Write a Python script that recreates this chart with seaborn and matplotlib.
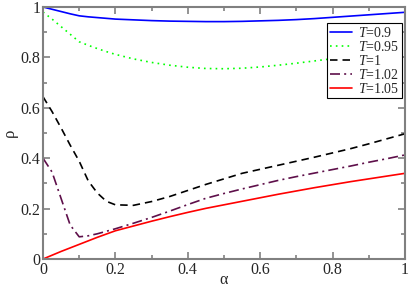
import numpy as np
import pandas as pd
import matplotlib
matplotlib.use('Agg')
import matplotlib.pyplot as plt
import seaborn as sns
from matplotlib.ticker import MultipleLocator

alpha = [0, 0.025, 0.05, 0.075, 0.1, 0.125, 0.15, 0.175, 0.2, 0.25, 0.3, 0.35, 0.4,
         0.45, 0.5, 0.55, 0.6, 0.65, 0.7, 0.75, 0.8, 0.85, 0.9, 0.95, 1.0]

rho_090 = [1.0, 0.991, 0.982, 0.973, 0.965, 0.961, 0.958, 0.955, 0.952, 0.949, 0.946, 0.944, 0.943,
           0.942, 0.942, 0.943, 0.945, 0.947, 0.950, 0.954, 0.959, 0.964, 0.969, 0.974, 0.979]
rho_095 = [0.98, 0.952, 0.922, 0.892, 0.862, 0.848, 0.835, 0.823, 0.812, 0.794, 0.780, 0.769, 0.761,
           0.756, 0.755, 0.757, 0.762, 0.769, 0.777, 0.786, 0.795, 0.806, 0.817, 0.829, 0.841]
rho_100 = [0.644, 0.585, 0.52, 0.452, 0.388, 0.31, 0.262, 0.229, 0.215, 0.213, 0.228, 0.248, 0.272,
           0.296, 0.318, 0.34, 0.356, 0.372, 0.388, 0.404, 0.421, 0.438, 0.457, 0.477, 0.497]
rho_102 = [0.40, 0.345, 0.24, 0.135, 0.088, 0.092, 0.10, 0.11, 0.12, 0.142, 0.165, 0.19, 0.216,
           0.241, 0.26, 0.278, 0.295, 0.312, 0.327, 0.341, 0.355, 0.369, 0.384, 0.398, 0.413]
rho_105 = [0.0, 0.015, 0.03, 0.044, 0.058, 0.072, 0.086, 0.099, 0.112, 0.131, 0.15, 0.168, 0.185,
           0.201, 0.215, 0.229, 0.243, 0.257, 0.27, 0.283, 0.295, 0.307, 0.318, 0.329, 0.34]

labels = ['$T$=0.9', '$T$=0.95', '$T$=1', '$T$=1.02', '$T$=1.05']

sns.set_style('ticks')
plt.rcParams['font.family'] = ['Liberation Serif', 'DejaVu Serif']
plt.rcParams['mathtext.fontset'] = 'custom'
plt.rcParams['mathtext.rm'] = 'Liberation Serif'
plt.rcParams['mathtext.it'] = 'Liberation Serif:italic'

fig = plt.figure(figsize=(4.09, 2.90), dpi=100)
ax = fig.add_axes([43 / 409, 1 - 259 / 290, 362 / 409, 252 / 290])

series = [rho_090, rho_095, rho_100, rho_102, rho_105]
colors = ['#0000ff', '#00ff00', '#000000', '#5e0f4a', '#ff0000']
styles = ['-', (0, (1, 2.5)), (0, (4.5, 3)), (0, (6, 2.5, 1.2, 2.5)), '-']

for y, lab, c, ls in zip(series, labels, colors, styles):
    sns.lineplot(x=alpha, y=y, ax=ax, color=c, linestyle=ls, linewidth=1.2,
                 label=lab, sort=False)

ax.set_xlim(0, 1)
ax.set_ylim(0, 1)
ax.xaxis.set_major_locator(MultipleLocator(0.2))
ax.xaxis.set_minor_locator(MultipleLocator(0.1))
ax.yaxis.set_major_locator(MultipleLocator(0.2))
ax.yaxis.set_minor_locator(MultipleLocator(0.1))
fmt = matplotlib.ticker.FuncFormatter(lambda v, p: '%g' % round(v, 2))
ax.xaxis.set_major_formatter(fmt)
ax.yaxis.set_major_formatter(fmt)

for s in ax.spines.values():
    s.set_color('#808080')
    s.set_linewidth(1.5)
    s.set_visible(True)
ax.tick_params(which='both', direction='in', top=True, right=True, color='#808080',
               width=1.2, labelsize=11.5, pad=2)
ax.tick_params(which='major', length=5)
ax.tick_params(which='minor', length=3)

ax.set_xlabel('α', fontsize=11.5)
ax.set_ylabel('ρ', fontsize=12)
ax.xaxis.set_label_coords(0.5, -0.053)
ax.yaxis.set_label_coords(-0.07, 0.5)

leg = ax.legend(loc='upper right', bbox_to_anchor=(0.992, 0.937), fontsize=10,
                frameon=True, fancybox=False, framealpha=1, edgecolor='black',
                handlelength=1.6, handletextpad=0.45, borderpad=0.2, labelspacing=0.0,
                borderaxespad=0)
leg.get_frame().set_linewidth(0.8)

fig.savefig('out.png', dpi=100)
